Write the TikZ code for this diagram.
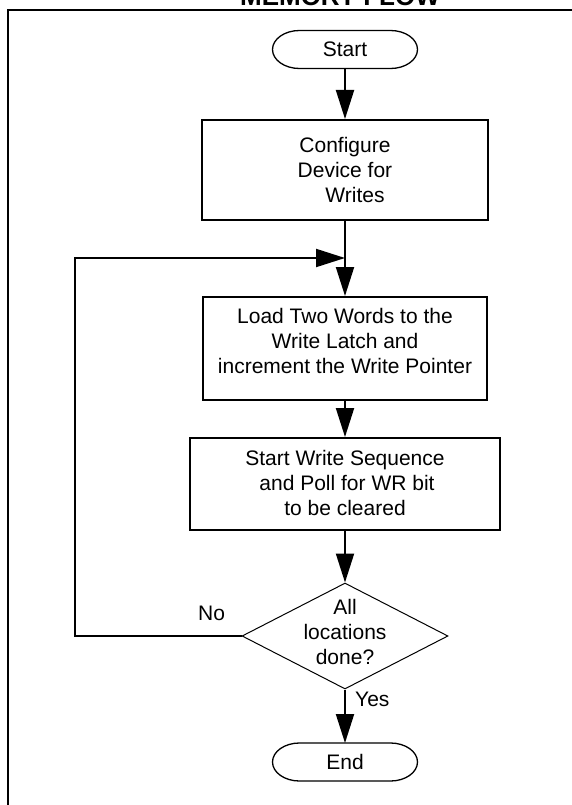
\documentclass[tikz,border=0pt]{standalone}
\usepackage{fontspec}
\setmainfont{Liberation Sans}
\usetikzlibrary{arrows.meta,shapes.geometric}
\begin{document}
\begin{tikzpicture}[x=1pt,y=-1pt,
  every node/.style={font=\fontsize{21}{25}\selectfont},
  conn/.style={line width=2pt,-{Triangle[length=29pt,width=18pt]}},
  procbox/.style={draw,line width=2pt,rectangle,inner sep=0pt},
  term/.style={rectangle,minimum width=145pt,minimum height=38pt,inner sep=0pt,outer sep=0pt},
  ovalline/.style={line width=1.3pt},
  decision/.style={diamond,draw,line width=1pt,inner sep=0pt,minimum width=206pt,minimum height=106pt},
  txt/.style={align=center,inner sep=0pt},
  lbl/.style={inner sep=0pt,anchor=base west},
  frameline/.style={line width=2.6pt}
  ]
\useasboundingbox (0,0) rectangle (571,805);

% frame and (cropped) title
\draw[frameline] (8,812) -- (8,10) -- (580,10);
\node[font=\bfseries\fontsize{26}{30}\selectfont,anchor=base,inner sep=0pt] (title) at (340,5.5) {MEMORY FLOW};

% terminals
\node[term] (start) at (345,49.5) {Start};
\draw[ovalline] ([xshift=27pt]start.north west) -- ([xshift=-27pt]start.north east)
  arc[start angle=90,end angle=-90,x radius=27pt,y radius=19pt]
  -- ([xshift=27pt]start.south west)
  arc[start angle=270,end angle=90,x radius=27pt,y radius=19pt] -- cycle;

\node[term] (end) at (345,762) {End};
\draw[ovalline] ([xshift=27pt]end.north west) -- ([xshift=-27pt]end.north east)
  arc[start angle=90,end angle=-90,x radius=27pt,y radius=19pt]
  -- ([xshift=27pt]end.south west)
  arc[start angle=270,end angle=90,x radius=27pt,y radius=19pt] -- cycle;

% process boxes
\node[procbox,minimum width=286pt,minimum height=100pt] (cfg) at (345,170) {};
\node[txt] (cfgtxt) at (345,170) {Configure\\Device for\\\hspace*{20pt}Writes};

\node[procbox,minimum width=284pt,minimum height=103pt] (load) at (345,348.5) {};
\node[txt] (loadtxt) at (345,340.5) {Load Two Words to the\\Write Latch and\\increment the Write Pointer};

\node[procbox,minimum width=310pt,minimum height=92pt] (sw) at (345,484) {};
\node[txt] (swtxt) at (345,483) {Start Write Sequence\\\hspace*{4pt}and Poll for WR bit\\to be cleared};

% decision
\node[decision] (dec) at (345,636) {};
\node[txt] (dectxt) at (345,632) {All\\locations\\done?};

% connectors
\coordinate (join) at (345,258);
\draw[conn] (start) -- (cfg);
\draw[conn] (cfg) -- (load);
\draw[conn] (load) -- (sw);
\draw[conn] (sw) -- (dec);
\draw[conn] (dec) -- (end);
\draw[conn] (dec.west) -- ++(-167,0) |- (join);

% labels
\node[lbl] (nolbl) at (198,620) {No};
\node[lbl] (yeslbl) at (355,706) {Yes};
\end{tikzpicture}
\end{document}
